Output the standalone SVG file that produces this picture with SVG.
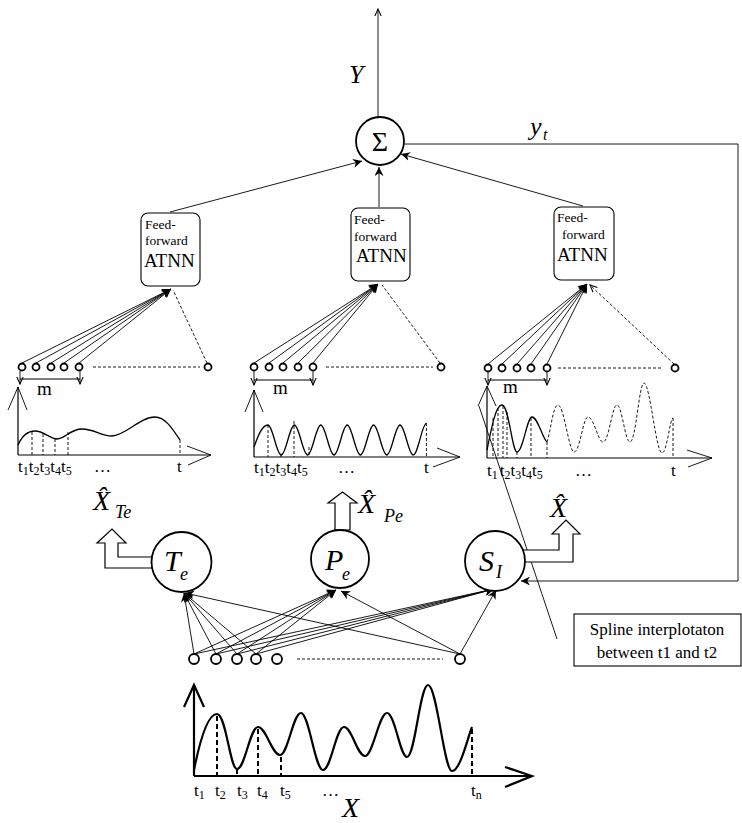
<svg xmlns="http://www.w3.org/2000/svg" width="742" height="823" viewBox="0 0 742 823">
<defs>
<style>
text{font-family:"Liberation Serif","Times New Roman","DejaVu Serif","Noto Serif",serif;fill:#000}
.it{font-style:italic}
.ln{stroke:#000;stroke-width:0.9;fill:none}
.dt{stroke:#000;stroke-width:0.9;fill:none;stroke-dasharray:3,2}
.ax{stroke:#000;stroke-width:1.2;fill:none}
.cv{stroke:#000;stroke-width:1.3;fill:none}
.nd{fill:#fff;stroke:#000;stroke-width:1.8}
.sn{fill:#fff;stroke:#000;stroke-width:1.8}
.bx{fill:#fff;stroke:#000;stroke-width:1.1}
.blk{fill:#fff;stroke:#000;stroke-width:1.2}
.lbl{font-size:17px}
.sub{font-size:12px}
</style>
<marker id="ah" viewBox="0 0 10 10" refX="10" refY="5" markerWidth="9" markerHeight="9" orient="auto" markerUnits="userSpaceOnUse"><path d="M0,0 L10,5 L0,10 L3,5 z" fill="#000"/></marker>
<marker id="ov" viewBox="0 0 10 10" refX="9" refY="5" markerWidth="8" markerHeight="8" orient="auto" markerUnits="userSpaceOnUse"><path d="M0,1 L9,5 L0,9" fill="none" stroke="#000" stroke-width="1.3"/></marker>
</defs>

<g id="connectors">
<line class="ln" x1="378" y1="117" x2="378" y2="9" marker-end="url(#ov)"/>
<line class="ln" x1="170" y1="212" x2="362" y2="161" marker-end="url(#ah)"/>
<line class="ln" x1="379" y1="207" x2="379" y2="167" marker-end="url(#ah)"/>
<line class="ln" x1="583" y1="206" x2="401" y2="154" marker-end="url(#ah)"/>
<polyline class="ln" points="404,144 738,144 738,581 521,581" marker-end="url(#ah)"/>
<g>
<line class="ln" x1="22" y1="363" x2="171" y2="289" marker-end="url(#ah)"/>
<line class="ln" x1="36" y1="363" x2="171" y2="289" marker-end="url(#ah)"/>
<line class="ln" x1="51" y1="363" x2="171" y2="289" marker-end="url(#ah)"/>
<line class="ln" x1="64" y1="363" x2="171" y2="289" marker-end="url(#ah)"/>
<line class="ln" x1="79" y1="363" x2="171" y2="289" marker-end="url(#ah)"/>
<line class="dt" x1="207" y1="363" x2="173" y2="290"/>
<line class="dt" x1="93" y1="367" x2="200" y2="367"/>
</g>
<g>
<line class="ln" x1="254" y1="363" x2="378" y2="284" marker-end="url(#ah)"/>
<line class="ln" x1="269" y1="363" x2="378" y2="284" marker-end="url(#ah)"/>
<line class="ln" x1="283" y1="363" x2="378" y2="284" marker-end="url(#ah)"/>
<line class="ln" x1="298" y1="363" x2="378" y2="284" marker-end="url(#ah)"/>
<line class="ln" x1="313" y1="363" x2="378" y2="284" marker-end="url(#ah)"/>
<line class="dt" x1="440" y1="363" x2="382" y2="285"/>
<line class="dt" x1="326" y1="367" x2="433" y2="367"/>
</g>
<g>
<line class="ln" x1="488" y1="364" x2="587" y2="284" marker-end="url(#ah)"/>
<line class="ln" x1="502" y1="364" x2="587" y2="284" marker-end="url(#ah)"/>
<line class="ln" x1="517" y1="364" x2="587" y2="284" marker-end="url(#ah)"/>
<line class="ln" x1="531" y1="364" x2="587" y2="284" marker-end="url(#ah)"/>
<line class="ln" x1="547" y1="364" x2="587" y2="284" marker-end="url(#ah)"/>
<line class="dt" x1="674" y1="364" x2="590" y2="285" marker-end="url(#ov)"/>
<line class="dt" x1="558" y1="368" x2="663" y2="368"/>
</g>
<g>
<line class="ax" x1="20" y1="379" x2="80" y2="379"/>
<line class="ln" x1="20" y1="371" x2="20" y2="384" marker-end="url(#ov)"/>
<line class="ln" x1="80" y1="371" x2="80" y2="384" marker-end="url(#ov)"/>
<line class="ax" x1="254" y1="380" x2="313" y2="380"/>
<line class="ln" x1="254" y1="371" x2="254" y2="385" marker-end="url(#ov)"/>
<line class="ln" x1="313" y1="371" x2="313" y2="385" marker-end="url(#ov)"/>
<line class="ax" x1="488" y1="380" x2="547" y2="380"/>
<line class="ln" x1="488" y1="372" x2="488" y2="385" marker-end="url(#ov)"/>
<line class="ln" x1="547" y1="372" x2="547" y2="385" marker-end="url(#ov)"/>
</g>
<g>
<line class="ln" x1="194" y1="654" x2="184" y2="593" marker-end="url(#ah)"/>
<line class="ln" x1="216" y1="654" x2="184" y2="593" marker-end="url(#ah)"/>
<line class="ln" x1="237" y1="654" x2="184" y2="593" marker-end="url(#ah)"/>
<line class="ln" x1="256" y1="654" x2="184" y2="593" marker-end="url(#ah)"/>
<line class="ln" x1="460" y1="654" x2="185" y2="593" marker-end="url(#ah)"/>
<line class="ln" x1="194" y1="654" x2="336" y2="590" marker-end="url(#ah)"/>
<line class="ln" x1="216" y1="654" x2="336" y2="590" marker-end="url(#ah)"/>
<line class="ln" x1="237" y1="654" x2="336" y2="590" marker-end="url(#ah)"/>
<line class="ln" x1="256" y1="654" x2="336" y2="590" marker-end="url(#ah)"/>
<line class="ln" x1="460" y1="654" x2="341" y2="591" marker-end="url(#ah)"/>
<line class="ln" x1="194" y1="654" x2="494" y2="589" marker-end="url(#ah)"/>
<line class="ln" x1="216" y1="654" x2="494" y2="589" marker-end="url(#ah)"/>
<line class="ln" x1="237" y1="654" x2="494" y2="589" marker-end="url(#ah)"/>
<line class="ln" x1="256" y1="654" x2="494" y2="589" marker-end="url(#ah)"/>
<line class="ln" x1="460" y1="654" x2="496" y2="590" marker-end="url(#ah)"/>
<line class="dt" x1="297" y1="659" x2="443" y2="659"/>
</g>
<line class="ln" x1="557" y1="639" x2="479" y2="406"/>
</g>

<g id="sigma">
<circle class="sn" cx="380" cy="141" r="24"/>
<text x="380" y="151" font-size="28" text-anchor="middle">Σ</text>
</g>
<text class="it" x="349" y="83" font-size="26">Y</text>
<g id="yt"><text class="it" x="530" y="135" font-size="26">y</text><text class="it" x="543" y="140" font-size="16">t</text></g>

<g id="atnn1">
<rect class="bx" x="141" y="213" width="59" height="73" rx="7"/>
<text x="145" y="229" font-size="13.5">Feed-</text>
<text x="145" y="245" font-size="13.5">forward</text>
<text x="144" y="267" font-size="19">ATNN</text>
</g>
<g id="atnn2">
<rect class="bx" x="351" y="208" width="59" height="73" rx="7"/>
<text x="354" y="224" font-size="13.5">Feed-</text>
<text x="354" y="241" font-size="13.5">forward</text>
<text x="356" y="262" font-size="19">ATNN</text>
</g>
<g id="atnn3">
<rect class="bx" x="554" y="207" width="60" height="73" rx="7"/>
<text x="557" y="222" font-size="13.5">Feed-</text>
<text x="562" y="239" font-size="13.5">forward</text>
<text x="557" y="261" font-size="19">ATNN</text>
</g>

<g id="row1" class="nd">
<circle cx="22" cy="367" r="3.5"/><circle cx="36" cy="367" r="3.5"/><circle cx="51" cy="367" r="3.5"/><circle cx="64" cy="367" r="3.5"/><circle cx="79" cy="367" r="3.5"/><circle cx="208" cy="367" r="3.5"/>
</g>
<g id="row2" class="nd">
<circle cx="254" cy="367" r="3.5"/><circle cx="269" cy="367" r="3.5"/><circle cx="283" cy="367" r="3.5"/><circle cx="298" cy="367" r="3.5"/><circle cx="313" cy="367" r="3.5"/><circle cx="441" cy="367" r="3.5"/>
</g>
<g id="row3" class="nd">
<circle cx="488" cy="368" r="3.5"/><circle cx="502" cy="368" r="3.5"/><circle cx="517" cy="368" r="3.5"/><circle cx="531" cy="368" r="3.5"/><circle cx="547" cy="368" r="3.5"/><circle cx="675" cy="368" r="3.5"/>
</g>
<text x="37" y="395" font-size="19">m</text>
<text x="273" y="394" font-size="19">m</text>
<text x="503" y="393" font-size="19">m</text>

<g id="plot1">
<polyline class="ln" points="8,410 18,387 27,410"/>
<line class="ax" x1="18" y1="387" x2="18" y2="455"/>
<line class="ax" x1="18" y1="455" x2="211" y2="455"/>
<polyline class="ln" points="187,446 211,455 188,465"/>
<path class="cv" d="M18,445 C22,436 27,431 35,431 C44,431 50,439 57,439 C65,439 70,429 82,429 C95,429 100,436 112,436 C125,436 140,417 155,417 C165,417 172,428 180,440"/>
<g class="dt"><line x1="32" y1="432" x2="32" y2="455"/><line x1="43" y1="434" x2="43" y2="455"/><line x1="55" y1="439" x2="55" y2="455"/><line x1="68" y1="432" x2="68" y2="455"/><line x1="180" y1="440" x2="180" y2="455"/></g>
<text class="lbl" x="18" y="472">t<tspan class="sub" dy="3">1</tspan><tspan dy="-3">t</tspan><tspan class="sub" dy="3">2</tspan><tspan dy="-3">t</tspan><tspan class="sub" dy="3">3</tspan><tspan dy="-3">t</tspan><tspan class="sub" dy="3">4</tspan><tspan dy="-3">t</tspan><tspan class="sub" dy="3">5</tspan></text>
<text class="lbl" x="94" y="472">…</text>
<text class="lbl" x="177" y="472">t</text>
</g>

<g id="plot2">
<polyline class="ln" points="245,412 254,390 263,412"/>
<line class="ax" x1="254" y1="390" x2="254" y2="457"/>
<line class="ax" x1="254" y1="457" x2="460" y2="457"/>
<polyline class="ln" points="437,448 460,457 433,467"/>
<path class="cv" d="M254,447 C258,436 262,425 268,425 C272.8,425 276.4,455 281.2,455 S289.6,425 294.4,425 S302.8,455 307.6,455 S316,425 320.8,425 S329.2,455 334,455 S342.4,425 347.2,425 S355.6,455 360.4,455 S368.8,425 373.6,425 S382,455 386.8,455 S395.2,425 400,425 S408.4,455 413.2,455 S421.6,425 426.4,423"/>
<g class="dt"><line x1="268" y1="425" x2="268" y2="457"/><line x1="281" y1="455" x2="281" y2="457"/><line x1="294" y1="421" x2="294" y2="457"/><line x1="309" y1="447" x2="309" y2="457"/><line x1="426.4" y1="423" x2="426.4" y2="457"/></g>
<text class="lbl" x="254" y="473">t<tspan class="sub" dy="3">1</tspan><tspan dy="-3">t</tspan><tspan class="sub" dy="3">2</tspan><tspan dy="-3">t</tspan><tspan class="sub" dy="3">3</tspan><tspan dy="-3">t</tspan><tspan class="sub" dy="3">4</tspan><tspan dy="-3">t</tspan><tspan class="sub" dy="3">5</tspan></text>
<text class="lbl" x="338" y="473">…</text>
<text class="lbl" x="424" y="473">t</text>
</g>

<g id="plot3">
<polyline class="ln" points="478,406 487,386 496,406"/>
<line class="ax" x1="487" y1="386" x2="487" y2="458"/>
<line class="ax" x1="487" y1="458" x2="712" y2="458"/>
<polyline class="ln" points="687,450 712,458 688,467"/>
<path class="cv" d="M487,450 C492,425 496,405 502,405 C509,405 512,452 517,452 C523,452 527,417 532,417 C538,417 543,440 547,442"/>
<path class="dt" d="M547,442 C551,430 553,405 558,405 C564,405 569,452 574,452 C580,452 583,417 588,417 C594,417 598,442 603,442 C609,442 612,405 617,405 C622,405 625,442 630,442 C636,442 639,383 644,383 C650,383 656,453 662,453 C667,453 670,418 673,418"/>
<g class="dt"><line x1="493" y1="418" x2="493" y2="458"/><line x1="498" y1="408" x2="498" y2="458"/><line x1="503" y1="406" x2="503" y2="458"/><line x1="507" y1="412" x2="507" y2="458"/><line x1="517" y1="452" x2="517" y2="458"/><line x1="531" y1="418" x2="531" y2="458"/><line x1="547" y1="442" x2="547" y2="458"/><line x1="673" y1="418" x2="673" y2="458"/></g>
<text class="lbl" x="487" y="476">t<tspan class="sub" dy="3">1</tspan><tspan dy="-3" dx="2">t</tspan><tspan class="sub" dy="3">2</tspan><tspan dy="-3">t</tspan><tspan class="sub" dy="3">3</tspan><tspan dy="-3">t</tspan><tspan class="sub" dy="3">4</tspan><tspan dy="-3">t</tspan><tspan class="sub" dy="3">5</tspan></text>
<text class="lbl" x="575" y="476">…</text>
<text class="lbl" x="671" y="476">t</text>
</g>

<g id="Te">
<polygon class="blk" points="152,557 118,557 118,543 126,543 112,529 97,543 105,543 105,568 152,568"/>
<circle class="sn" cx="181.5" cy="562" r="30"/>
<text class="it" x="164" y="571" font-size="30">T</text>
<text class="it" x="180" y="580" font-size="18">e</text>
</g>
<g id="XTe">
<text class="it" x="93" y="510" font-size="28">X̂</text>
<text class="it" x="115" y="518" font-size="18">Te</text>
</g>
<g id="Pe">
<polygon class="blk" points="335,530 335,503 328,503 342.5,492 357,503 350,503 350,530"/>
<circle class="sn" cx="340" cy="559" r="29"/>
<text class="it" x="325" y="570" font-size="30">P</text>
<text class="it" x="342" y="580" font-size="18">e</text>
</g>
<g id="XPe">
<text class="it" x="358" y="513" font-size="28">X̂</text>
<text class="it" x="384" y="522" font-size="18">Pe</text>
</g>
<g id="SI">
<polygon class="blk" points="520,550 559,550 559,534 552,534 566,520 580,534 573,534 573,562 520,562"/>
<circle class="sn" cx="495" cy="561" r="30"/>
<text class="it" x="479" y="571" font-size="30">S</text>
<text class="it" x="496" y="578" font-size="18">I</text>
</g>
<g id="Xhat">
<text class="it" x="550" y="517" font-size="28">X̂</text>
</g>

<g id="spline">
<rect class="bx" x="574" y="614" width="167" height="52"/>
<text x="657" y="635" font-size="17" text-anchor="middle">Spline interplotaton</text>
<text x="657" y="658" font-size="17" text-anchor="middle">between t1 and t2</text>
</g>

<g id="inputs" class="nd">
<circle cx="194" cy="659" r="5"/><circle cx="216" cy="659" r="5"/><circle cx="237" cy="659" r="5"/><circle cx="256" cy="659" r="5"/><circle cx="277" cy="659" r="5"/><circle cx="460" cy="659" r="5"/>
</g>

<g id="plotX">
<polyline points="184,707 194,685 204,707" fill="none" stroke="#000" stroke-width="2.2"/>
<line x1="194" y1="685" x2="194" y2="776" stroke="#000" stroke-width="2.2"/>
<line x1="194" y1="776" x2="532" y2="776" stroke="#000" stroke-width="2.2"/>
<polyline points="505,767 532,776 505,787" fill="none" stroke="#000" stroke-width="2.2"/>
<path d="M194,770 C200,740 208,714 217,714 C226,714 230,769 237,769 C245,769 250,727 258,727 C266,727 272,755 280,755 C288,755 293,713 301,713 C309,713 315,770 323,770 C331,770 336,727 344,727 C352,727 357,756 365,756 C373,756 379,713 387,713 C395,713 400,757 407,757 C415,757 420,685 428,685 C437,685 444,771 452,771 C460,771 467,740 472,727" fill="none" stroke="#000" stroke-width="2.2"/>
<g stroke="#000" stroke-width="2" stroke-dasharray="5,3"><line x1="217" y1="716" x2="217" y2="776"/><line x1="237" y1="769" x2="237" y2="776"/><line x1="258" y1="729" x2="258" y2="776"/><line x1="281" y1="757" x2="281" y2="776"/><line x1="472" y1="729" x2="472" y2="776"/></g>
<text class="lbl" x="194" y="796">t<tspan class="sub" dy="3">1</tspan></text>
<text class="lbl" x="215" y="796">t<tspan class="sub" dy="3">2</tspan></text>
<text class="lbl" x="237" y="796">t<tspan class="sub" dy="3">3</tspan></text>
<text class="lbl" x="257" y="796">t<tspan class="sub" dy="3">4</tspan></text>
<text class="lbl" x="280" y="796">t<tspan class="sub" dy="3">5</tspan></text>
<text class="lbl" x="322" y="796">…</text>
<text class="lbl" x="471" y="796">t<tspan class="sub" dy="3">n</tspan></text>
<text class="it" x="342" y="817" font-size="28">X</text>
</g>
</svg>
